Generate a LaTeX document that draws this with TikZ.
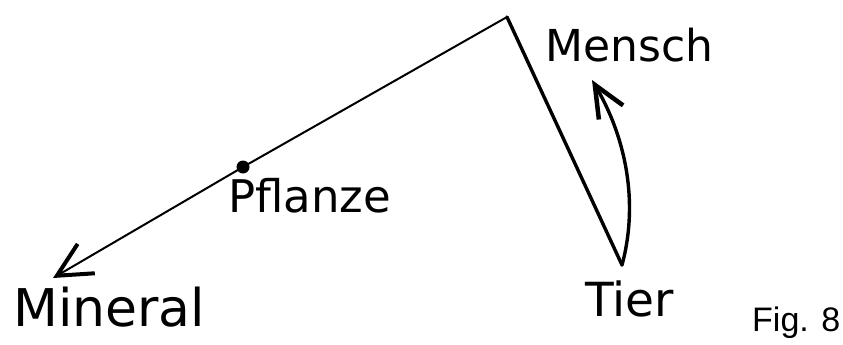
\documentclass[tikz,border=0pt]{standalone}
\usepackage{fontspec}
\setmainfont{Liberation Sans}
\newfontfamily\handfont{DejaVu Sans}
\usetikzlibrary{arrows.meta, positioning}
\tikzset{
  word/.style={font=\handfont\fontsize{#1}{#1}\selectfont, inner sep=0pt},
  word/.default=46pt,
  stroke/.style={line width=3.4pt, line cap=round, line join=round},
  thinstroke/.style={line width=2pt, line cap=round, line join=round},
  dot/.style={circle, fill=black, inner sep=0pt, minimum size=13pt},
}

\begin{document}
\begin{tikzpicture}[x=1pt, y=-1pt]
\useasboundingbox (0,0) rectangle (843,345);

% ── Punkte der Skizze ─────────────────────────────────────────────────────────
\coordinate (apex) at (507,17);
\coordinate (mintip) at (53,278);
\coordinate (vbottom) at (622,265);
\coordinate (uptip) at (592,80);
\node[dot] (pfl) at (243,167) {};

% ── Linien ────────────────────────────────────────────────────────────────────
\draw[thinstroke, {Straight Barb[length=34pt, width=34pt, line width=4pt]}-]
  (mintip) -- (pfl.center) -- (apex);
\draw[stroke] (apex) -- (vbottom);
\draw[stroke, -{Straight Barb[length=32pt, width=28pt, line width=4.5pt]}]
  (vbottom) .. controls (637,210) and (630,145) .. (uptip);

% ── Beschriftung ──────────────────────────────────────────────────────────────
\node[word=44pt, anchor=base west] (mensch) at (545,62) {Mensch};
\node[word=45pt, anchor=base west] (pflanze) at (228,212) {Pflanze};
\node[word=47pt, anchor=base west] (tier) at (585,316) {Tier};
\node[word=52pt, anchor=base west] (mineral) at (13,326) {Mineral};
\node[font=\fontsize{34pt}{34pt}\selectfont, anchor=base west, inner sep=0pt]
  (fig) at (752,331) {Fig. 8};

\end{tikzpicture}
\end{document}
